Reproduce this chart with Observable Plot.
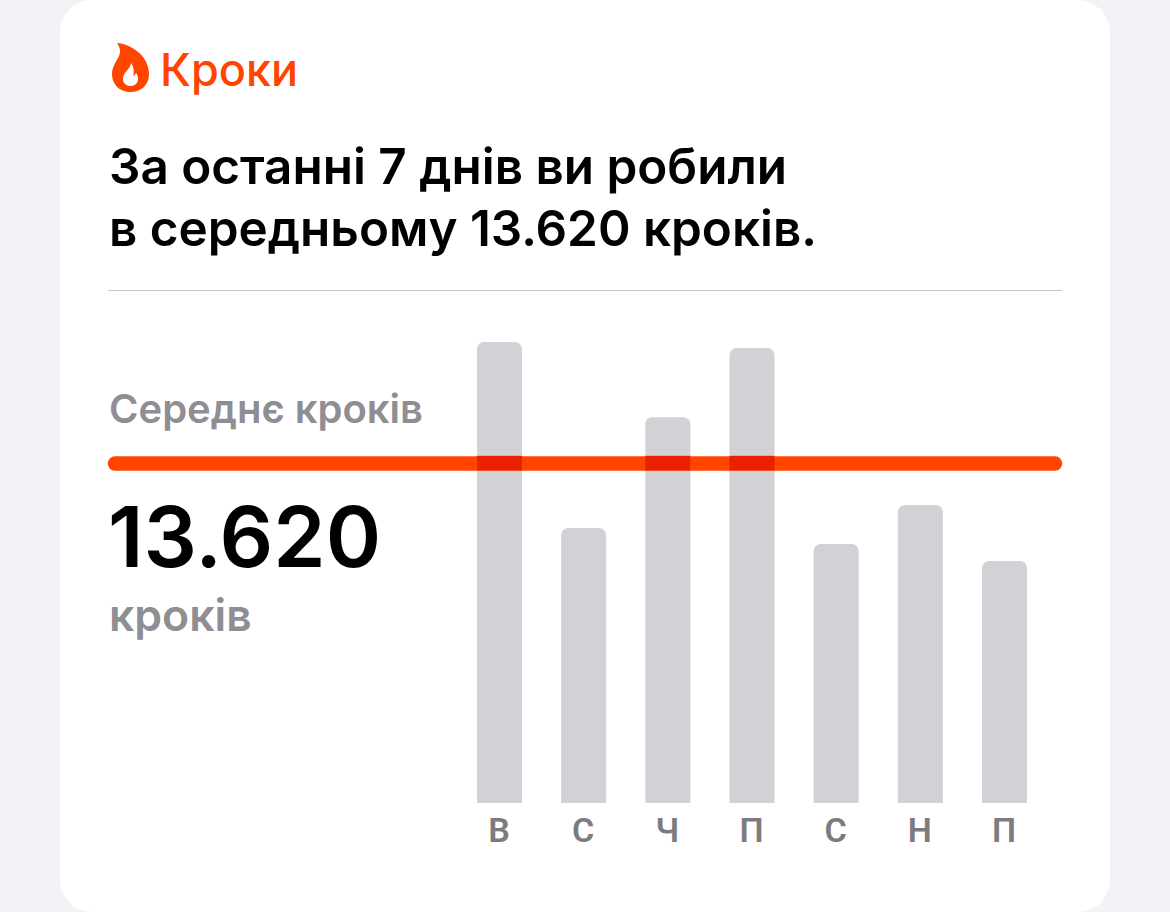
<!DOCTYPE html>
<html lang="uk">
<head>
<meta charset="utf-8">
<script src="https://cdn.jsdelivr.net/npm/d3@7"></script>
<script src="https://cdn.jsdelivr.net/npm/@observablehq/plot@0.6"></script>
<style>
html,body{margin:0;padding:0;width:1170px;height:912px;overflow:hidden;background:#f2f2f7;font-family:Inter,Roboto,sans-serif}
#card{position:absolute;left:60px;top:0;width:1050px;height:912px;background:#fff;border-radius:32px}
.t{position:absolute;white-space:nowrap;margin:0}
#chart{position:absolute;left:0;top:0}
#chart svg{background:transparent!important}
#rule{position:absolute;left:108px;top:290px;width:954px;height:1px;background:#c6c6c8}
</style>
</head>
<body>
<div id="card"></div>
<svg style="position:absolute;left:110px;top:43px" width="40" height="50" viewBox="0 0 40 50">
<path fill="#ff4500" fill-rule="evenodd" d="M7 0C20 1 39 12 39 31C39 42 31 49 20.5 49C9 49 2 41 2 31C2 24 6 19 9 13C11 9 10 4 7 0ZM21 20C20 27 13 29 13 36C13 40 16 43 20.5 43C25 43 28 40 28 36C28 33 27 31 26 30C25 32 24.5 33 23.5 33C24 28 24 24 21 20Z"/>
</svg>
<div class="t" style="left:160px;top:43px;font-size:45px;line-height:54px;font-weight:500;color:#ff4500">Кроки</div>
<div class="t" style="left:109px;top:135px;font-size:49.4px;line-height:62px;font-weight:600;color:#000">За останні 7 днів ви робили<br>в середньому 13.620 кроків.</div>
<div id="rule"></div>
<div class="t" style="left:109px;top:385px;font-size:40px;line-height:48px;font-weight:600;color:#8e8e93">Середнє кроків</div>
<div class="t" style="left:108px;top:489px;font-size:84px;line-height:96px;font-weight:600;color:#000">13.620</div>
<div class="t" style="left:109px;top:591px;font-size:44.5px;line-height:48px;font-weight:600;color:#8e8e93">кроків</div>
<div id="chart"></div>
<script>
const days = ["0","1","2","3","4","5","6"];
const dayLabels = ["В","С","Ч","П","С","Н","П"];
const steps = [18470, 11020, 15460, 18230, 10380, 11940, 9700];
const average = [13620];
const table = days.map((d,i)=>({d, v:steps[i]}));
const band = 290;
const plot = Plot.plot({
  width:1170, height:912,
  marginLeft:115, marginRight:115, marginTop:0, marginBottom:109,
  style:{background:"transparent"},
  x:{domain:days, range:[477,1027], paddingInner:0.466, paddingOuter:0, align:0.5, round:false, axis:null},
  y:{domain:[0,18470], range:[803,342], axis:null},
  marks:[
    Plot.barY(table,{x:"d", y:"v", fill:"#d1d1d6", rx1y1:7, rx2y1:7}),
    Plot.ruleY(average,{stroke:"#ff4500", strokeWidth:14.5, strokeLinecap:"round"}),
    Plot.barY(table.filter(r=>r.v>average[0]),{x:"d", y1:average[0]-band, y2:average[0]+band, fill:"#ea2000"}),
    Plot.axisX({anchor:"bottom", tickSize:0, tickPadding:14, label:null, tickFormat:d=>dayLabels[+d], dx:-1,
      fontSize:34, fontWeight:600, fontFamily:"Roboto", fill:"#7c7c80", color:"#7c7c80"})
  ]
});
document.getElementById("chart").appendChild(plot);
</script>
</body>
</html>
